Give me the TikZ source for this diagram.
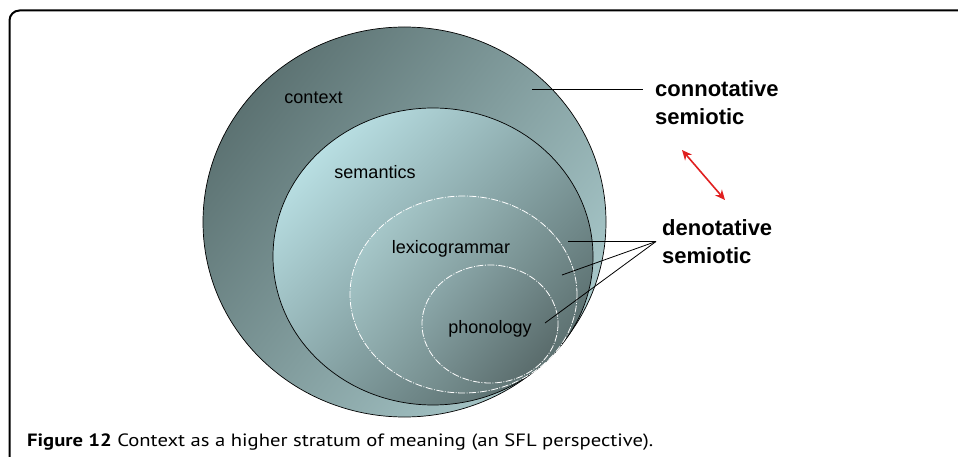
\documentclass[tikz,border=0pt]{standalone}
\usepackage{fontspec}
\setmainfont{Liberation Sans}
\newfontfamily\capfont[FakeStretch=1.16]{PT Sans}
\usetikzlibrary{arrows.meta}
\definecolor{ctxdark}{RGB}{92,114,114}
\definecolor{ctxlight}{RGB}{168,200,202}
\definecolor{semlight}{RGB}{184,222,226}
\definecolor{semdark}{RGB}{90,110,110}
\definecolor{lexlight}{RGB}{165,198,200}
\definecolor{lexdark}{RGB}{94,114,114}
\definecolor{phonlight}{RGB}{138,166,168}
\definecolor{phondark}{RGB}{90,108,108}
\definecolor{arrowred}{RGB}{224,32,32}

\begin{document}
\begin{tikzpicture}[x=1pt,y=-1pt,
    stratum/.style={draw=black,line width=0.7pt},
    inner stratum/.style={draw=white,line width=0.8pt,dash pattern=on 7pt off 1.5pt on 1pt off 1.5pt},
    lbl/.style={anchor=base,inner sep=0pt,font=\fontsize{18}{22}\selectfont},
    semiotic/.style={anchor=west,align=left,inner ysep=0pt,font=\fontsize{22}{28}\selectfont\bfseries},
    pointer/.style={line width=0.8pt}]
  \useasboundingbox (0,0) rectangle (958,457);

  % frame
  \draw[line width=2pt,rounded corners=10pt] (9.5,457) -- (9.5,10.5) -- (958,10.5);

  % strata
  \shade[left color=ctxdark,right color=ctxlight,shading angle=52] (404.5,222) ellipse [x radius=201.5,y radius=195];
  \draw[stratum] (404.5,222) ellipse [x radius=201.5,y radius=195];
  \shade[left color=semlight,right color=semdark,shading angle=45] (433,256.5) ellipse [x radius=160,y radius=148.5];
  \draw[stratum] (433,256.5) ellipse [x radius=160,y radius=148.5];
  \shade[left color=lexlight,right color=lexdark,shading angle=50] (463.5,294.5) ellipse [x radius=113.5,y radius=98.5];
  \draw[inner stratum] (463.5,294.5) ellipse [x radius=113.5,y radius=98.5];
  \shade[left color=phonlight,right color=phondark,shading angle=50] (490,324) ellipse [x radius=68,y radius=59];
  \draw[inner stratum] (490,324) ellipse [x radius=68,y radius=59];

  \node[lbl] (context) at (313.5,104) {context};
  \node[lbl] (semantics) at (375,179) {semantics};
  \node[lbl] (lexicogrammar) at (451,253) {lexicogrammar};
  \node[lbl] (phonology) at (490,333) {phonology};

  % semiotics
  \node[semiotic,inner xsep=12pt] (conn) at (643,103) {connotative\\semiotic};
  \node[semiotic,inner xsep=6pt] (deno) at (656,241.5) {denotative\\semiotic};

  \coordinate (ctxpt) at (532,89);
  \coordinate (sempt) at (568,241.5);
  \coordinate (lexpt) at (562,275);
  \coordinate (phonpt) at (545,323);
  \draw[pointer] (ctxpt) -- (ctxpt -| conn.west);
  \foreach \p in {sempt,lexpt,phonpt}
    \draw[pointer] (\p) -- (deno.west);

  \coordinate (arrtop) at (682,150);
  \coordinate (arrbot) at (725,200);
  \draw[arrowred,line width=1.6pt,{Stealth[length=10pt,width=9pt]}-{Stealth[length=10pt,width=9pt]}] (arrtop) -- (arrbot);

  % caption
  \node[anchor=base west,inner sep=0pt,font=\capfont\fontsize{17.8}{21}\selectfont] (caption) at (27,446)
    {\textbf{Figure 12} Context as a higher stratum of meaning (an SFL perspective).};
\end{tikzpicture}
\end{document}
